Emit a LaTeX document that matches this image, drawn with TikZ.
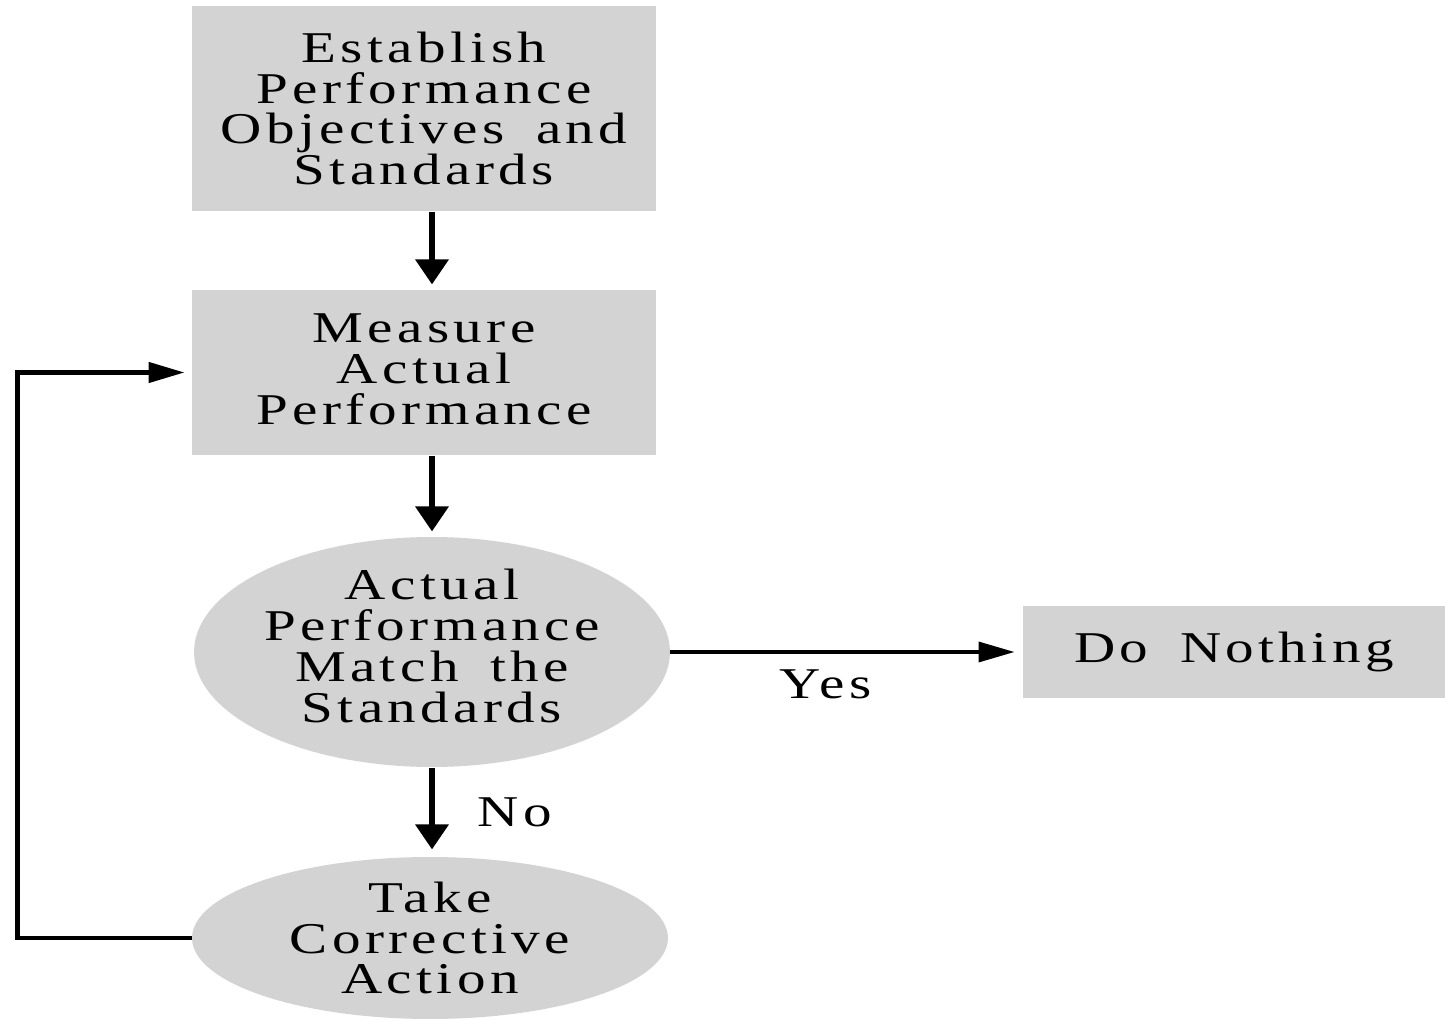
\documentclass[tikz,border=0pt]{standalone}
\usepackage{fontspec}
\setmainfont{Liberation Serif}[FakeStretch=1.3,LetterSpace=10,WordSpace=1.7]
\usetikzlibrary{arrows.meta,shapes.geometric,positioning}
\definecolor{boxgray}{RGB}{211,211,212}

\begin{document}
\begin{tikzpicture}[x=0.02cm,y=-0.02cm, semithick,
      vtip/.style={-{Triangle[length=0.5cm,width=0.64cm]},line width=3.6pt},
      htip/.style={-{Triangle[length=0.72cm,width=0.4cm]},line width=2pt},
      block/.style={rectangle,fill=boxgray,align=center,inner sep=0pt,
        font=\fontsize{25}{23.3}\selectfont},
      decide/.style={ellipse,fill=boxgray,align=center,inner sep=-0.3cm,
        font=\fontsize{25}{23.3}\selectfont},
      tag/.style={inner sep=0pt,font=\fontsize{25}{23.3}\selectfont}]
      \useasboundingbox (0,0) rectangle (1445,1020);
      \node[block,minimum width=9.28cm,minimum height=4.1cm] (est) at (424,108.5) {Establish\\Performance\\Objectives and\\Standards};
      \node[block,minimum width=9.28cm,minimum height=3.3cm,text depth=0.14cm] (meas) at (424,372.5) {Measure\\Actual\\Performance};
      \node[decide,minimum width=9.52cm,minimum height=4.6cm,text depth=0.24cm] (match) at (432,652) {Actual\\Performance\\Match the\\Standards};
      \node[block,minimum width=8.44cm,minimum height=1.84cm] (nothing) at (1234,652) {Do Nothing};
      \node[decide,minimum width=9.52cm,minimum height=3.24cm] (act) at (430,938) {Take\\Corrective\\Action};
      % down the chain
      \draw[vtip,shorten >=0.1cm] (est.south -| match) -- (meas.north -| match);
      \draw[vtip,shorten >=0.1cm] (meas.south -| match) -- (match.north);
      \draw[vtip,shorten >=0.14cm] (match.south) -- (match.south |- act.north)
        node[tag,midway,right=0.85cm] (no) {No};
      % outcome and feedback loop
      \draw[htip,shorten >=0.16cm] (match.east) -- (nothing.west)
        node[tag,pos=0.44,below=0.32cm] (yes) {Yes};
      \draw[htip,line width=2.6pt,shorten >=0.14cm] (act.west) -- ++(-174,0) |- (meas.west);
    \end{tikzpicture}
\end{document}
